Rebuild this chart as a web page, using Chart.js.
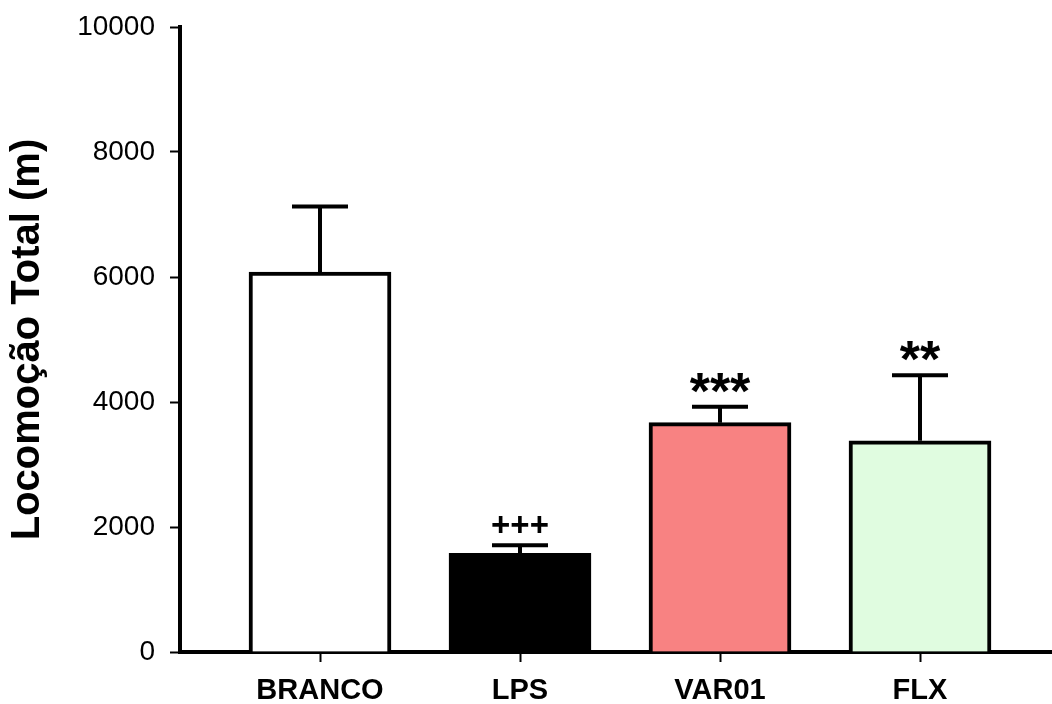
<!DOCTYPE html>
<html>
<head>
<meta charset="utf-8">
<script src="https://cdn.jsdelivr.net/npm/chart.js@4/dist/chart.umd.min.js"></script>
<style>
html,body{margin:0;padding:0;background:#fff;}
canvas{display:block;}
</style>
</head>
<body>
<canvas id="c" width="1052" height="704"></canvas>
<script>
// ---- data ----
const categories = ['BRANCO', 'LPS', 'VAR01', 'FLX'];
const means = [6080, 1580, 3670, 3380];
const errors = [1050, 130, 255, 1050];
const marks = ['', '+++', '***', '**'];
const yTicks = [0, 2000, 4000, 6000, 8000, 10000];
const yTitle = 'Locomoção Total (m)';

// ---- styles ----
const fills = ['#ffffff', '#000000', '#f88282', '#e0fce0'];
const FONT = '"Liberation Sans", Arial, sans-serif';

const bgPlugin = {
  id: 'bg',
  beforeDraw(chart) {
    const ctx = chart.ctx;
    ctx.save();
    ctx.fillStyle = '#fff';
    ctx.fillRect(0, 0, chart.width, chart.height);
    ctx.restore();
  }
};

const errPlugin = {
  id: 'errbars',
  afterDatasetsDraw(chart) {
    const ctx = chart.ctx;
    const ys = chart.scales.y;
    const meta = chart.getDatasetMeta(0);
    ctx.save();
    ctx.strokeStyle = '#000';
    ctx.lineWidth = 4;
    ctx.lineCap = 'butt';
    meta.data.forEach((bar, i) => {
      const x = bar.x;
      const yTop = ys.getPixelForValue(means[i]);
      const yErr = ys.getPixelForValue(means[i] + errors[i]);
      ctx.beginPath();
      ctx.moveTo(x, yTop);
      ctx.lineTo(x, yErr);
      ctx.moveTo(x - 28, yErr);
      ctx.lineTo(x + 28, yErr);
      ctx.stroke();
      const m = marks[i];
      if (m) {
        const isStar = m.indexOf('*') >= 0;
        ctx.font = 'bold ' + (isStar ? 52 : 33) + 'px ' + FONT;
        ctx.fillStyle = '#000';
        ctx.textAlign = 'center';
        ctx.textBaseline = 'alphabetic';
        const tm = ctx.measureText(m);
        const gap = isStar ? 14 : 12;
        const bottom = yErr - gap;
        ctx.fillText(m, x, bottom - tm.actualBoundingBoxDescent);
      }
    });
    ctx.restore();
  }
};

new Chart(document.getElementById('c'), {
  type: 'bar',
  data: {
    datasets: [{
      data: categories.map((c, i) => ({ x: i + 1, y: means[i] })),
      backgroundColor: fills,
      borderColor: '#000',
      borderWidth: 4,
      borderSkipped: 'start',
      barThickness: 142
    }]
  },
  options: {
    responsive: false,
    animation: false,
    layout: { padding: { top: 27, right: 0, bottom: 0, left: 0 } },
    plugins: { legend: { display: false }, tooltip: { enabled: false } },
    scales: {
      x: {
        type: 'linear',
        offset: false,
        min: 0.3,
        max: 4.66,
        afterBuildTicks(scale) {
          scale.ticks = categories.map((c, i) => ({ value: i + 1 }));
        },
        afterFit(scale) {
          scale.height = 52;
          scale.paddingLeft = 0;
          scale.paddingRight = 0;
        },
        grid: {
          offset: false,
          drawOnChartArea: false,
          drawTicks: true,
          tickLength: 10,
          tickColor: '#000',
          tickWidth: 2
        },
        border: { display: true, color: '#000', width: 4 },
        ticks: {
          callback: (v) => categories[v - 1] || '',
          color: '#000',
          font: { family: FONT, size: 29, weight: 'bold' },
          padding: 12,
          maxRotation: 0,
          autoSkip: false
        }
      },
      y: {
        min: 0,
        max: 10000,
        afterBuildTicks(scale) {
          scale.ticks = yTicks.map(v => ({ value: v }));
        },
        afterFit(scale) {
          scale.width = 180;
          scale.paddingTop = 0;
          scale.paddingBottom = 0;
        },
        grid: {
          drawOnChartArea: false,
          drawTicks: true,
          tickLength: 10,
          tickColor: '#000',
          tickWidth: 2
        },
        border: { display: true, color: '#000', width: 4 },
        ticks: {
          color: '#000',
          font: { family: FONT, size: 28 },
          padding: 15,
          callback: (v) => String(v)
        },
        title: {
          display: true,
          text: yTitle,
          color: '#000',
          font: { family: FONT, size: 40, weight: 'bold' },
          padding: { top: 4, bottom: 0 }
        }
      }
    }
  },
  plugins: [bgPlugin, errPlugin]
});
</script>
</body>
</html>
